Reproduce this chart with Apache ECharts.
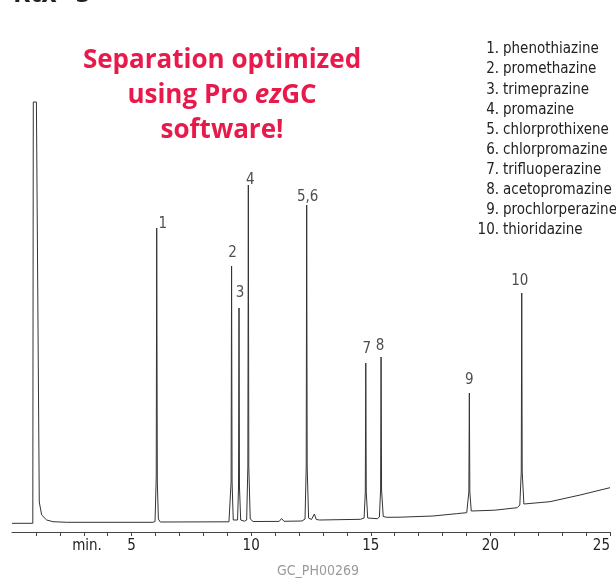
<!DOCTYPE html>
<html>
<head>
<meta charset="utf-8">
<script src="https://cdn.jsdelivr.net/npm/echarts@6/dist/echarts.min.js"></script>
<style>html,body{margin:0;padding:0;background:#fff}#c{width:616px;height:578px}</style>
</head>
<body>
<div id="c"></div>
<script>
// ---- data (time in min, detector signal in arbitrary units) ----
const trace = [
  [0.00,8.7],[0.87,8.7],[0.89,430],[1.02,430],[1.14,30],[1.24,17],[1.45,12],[1.71,10.3],[2.29,9.7],[5.89,9.7],
  [5.98,10.5],[6.03,55],[6.05,304],[6.075,50],[6.12,13],[6.20,10],
  [9.07,10.2],
  [9.12,11],[9.16,50],[9.18,266],[9.20,50],[9.25,12],
  [9.33,10.8],
  [9.43,12],[9.47,45],[9.49,224],[9.51,45],[9.56,12],
  [9.72,10.8],
  [9.81,12],[9.86,65],[9.88,347],[9.90,65],[9.96,13],[10.08,10.5],
  [11.17,10.6],[11.27,13.5],[11.37,10.7],
  [12.12,11],
  [12.25,13],[12.30,65],[12.32,327],[12.34,65],[12.40,14],
  [12.52,12.5],[12.64,18],[12.72,12.5],[12.86,12],[14.57,12.7],
  [14.72,14],[14.77,40],[14.79,169],[14.81,40],[14.87,14],
  [15.27,13.3],
  [15.36,15],[15.41,42],[15.43,175],[15.45,42],[15.52,15.5],[15.67,14.7],
  [16.22,14.8],[17.60,16],[18.58,18.3],[19.01,19.3],
  [19.06,21],[19.10,40],[19.12,139],[19.14,40],[19.20,21],[19.28,20],
  [20.18,21.8],[21.12,24.3],
  [21.23,27],[21.29,60],[21.31,239],[21.33,60],[21.40,28],[21.45,26.3],
  [22.49,30.3],[23.75,37],[25.00,44.3]
];
const peakLabels  = ['1','2','3','4','5,6','7','8','9','10'];
const peakTimes   = [6.05, 9.18, 9.49, 9.88, 12.32, 14.79, 15.43, 19.12, 21.31];
const peakHeights = [304, 266, 224, 347, 327, 169, 175, 139, 239];
const compoundNumbers = ['1.','2.','3.','4.','5.','6.','7.','8.','9.','10.'];
const compoundNames = ['phenothiazine','promethazine','trimeprazine','promazine','chlorprothixene',
  'chlorpromazine','trifluoperazine','acetopromazine','prochlorperazine','thioridazine'];
const xTicks = [5, 10, 15, 20, 25];
const titleParts = ['Rtx', '\u00AE', '-5'];
const noteLines = ['Separation optimized', 'using Pro ', 'ez', 'GC', 'software!'];
const axisUnit = 'min.';
const footer = 'GC_PH00269';

// ---- styling / layout ----
const condensed = "'Liberation Sans Narrow','DejaVu Sans Condensed','Roboto Condensed',sans-serif";
const red = '#e8194b';
const labelOffsets = [[6,-4],[1,-12.5],[1,-14.5],[2,-5],[1,-7.5],[1,-14],[-1,-11],[0,-13],[-2,-12]];

const chart = echarts.init(document.getElementById('c'), null, {renderer:'canvas'});

const graphics = [];
graphics.push({type:'text', x:13, y:-5.5, style:{
  text:'{n|'+titleParts[0]+'}{s|'+titleParts[1]+'}{n|'+titleParts[2]+'}',
  font:"bold 26px 'Open Sans'", fill:'#222', verticalAlign:'middle',
  rich:{
    n:{fontFamily:'Open Sans', fontWeight:'bold', fontSize:26, fill:'#222'},
    s:{fontFamily:'Open Sans', fontWeight:'bold', fontSize:13, fill:'#222', verticalAlign:'top'}
  }}});
const redFont = "bold 26px 'Open Sans'";
graphics.push({type:'text', x:222, y:61, style:{text:noteLines[0], font:redFont, fill:red, align:'center', verticalAlign:'middle'}});
graphics.push({type:'text', x:222, y:96, style:{
  text:'{n|'+noteLines[1]+'}{i|'+noteLines[2]+'}{n|'+noteLines[3]+'}',
  align:'center', verticalAlign:'middle', fill:red, font:redFont,
  rich:{
    n:{fontFamily:'Open Sans', fontWeight:'bold', fontSize:26, fill:red},
    i:{fontFamily:'Open Sans', fontWeight:'bold', fontStyle:'italic', fontSize:26, fill:red}
  }}});
graphics.push({type:'text', x:222, y:131, style:{text:noteLines[4], font:redFont, fill:red, align:'center', verticalAlign:'middle'}});
compoundNames.forEach((nm, i) => {
  const y = 49.5 + i * 20.1;
  graphics.push({type:'text', x:499, y:y, style:{text:compoundNumbers[i], font:'15px '+condensed, fill:'#222', align:'right', verticalAlign:'middle'}});
  graphics.push({type:'text', x:503, y:y, style:{text:nm, font:'15px '+condensed, fill:'#222', align:'left', verticalAlign:'middle'}});
});
graphics.push({type:'text', x:87, y:546, style:{text:axisUnit, font:'15px '+condensed, fill:'#222', align:'center', verticalAlign:'middle'}});
graphics.push({type:'text', x:318, y:571, style:{text:footer, font:'14px '+condensed, fill:'#9a9a9a', align:'center', verticalAlign:'middle'}});

const option = {
  animation:false,
  backgroundColor:'#fff',
  grid:{left:12, right:6, top:92, bottom:46},
  xAxis:{
    type:'value', min:0, max:25, interval:5,
    axisLine:{lineStyle:{color:'#444', width:1}},
    axisTick:{show:true, length:4, customValues:xTicks, lineStyle:{color:'#444'}},
    minorTick:{show:true, splitNumber:5, length:4, lineStyle:{color:'#444'}},
    splitLine:{show:false},
    axisLabel:{
      customValues:xTicks,
      formatter: v => String(v),
      color:'#222', fontSize:15, fontFamily:condensed, margin:7, alignMaxLabel:'right'
    }
  },
  yAxis:{type:'value', min:0, max:440, show:false},
  series:[
    {type:'line', data:trace, showSymbol:false, symbol:'none', lineStyle:{color:'#333', width:1}, silent:true},
    {type:'scatter', symbolSize:0, silent:true,
      data: peakTimes.map((t,i) => ({value:[t, peakHeights[i]], label:{offset:labelOffsets[i]}})),
      label:{show:true, position:'inside', formatter: p => peakLabels[p.dataIndex],
        color:'#222', fontSize:15, fontFamily:condensed}}
  ],
  graphic: graphics
};
chart.setOption(option);
</script>
</body>
</html>
